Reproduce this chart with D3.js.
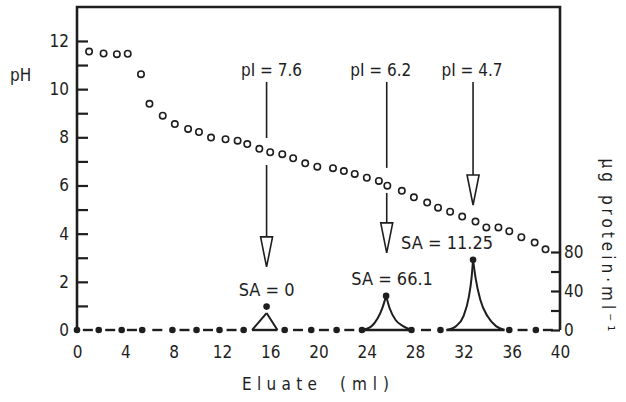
<!DOCTYPE html>
<html>
<head>
<meta charset="utf-8">
<script src="https://cdn.jsdelivr.net/npm/d3@7"></script>
<style>
  body { margin: 0; background: #fff; }
  svg { display: block; }
  text { font-family: "DejaVu Sans Condensed", "DejaVu Sans", sans-serif; fill: #1e1e1e; }
</style>
</head>
<body>
<svg id="chart" width="626" height="402"></svg>
<script>
// pH of the eluate fractions (open circles)
const phMl = [1.0, 2.2, 3.3, 4.2, 5.3, 6.0, 7.1, 8.1, 9.2, 10.1, 11.1, 12.3, 13.3, 14.1, 15.1, 16.0, 17.0, 17.9, 18.9, 19.9,
  21.2, 22.1, 23.0, 24.0, 25.0, 25.7, 26.9, 27.9, 29.0, 29.9, 30.9, 31.9, 33.0, 33.9, 34.9, 35.8, 36.8, 37.9, 38.8];
const phValues = [11.56, 11.48, 11.45, 11.47, 10.62, 9.39, 8.90, 8.55, 8.35, 8.22, 7.99, 7.92, 7.86, 7.72, 7.52, 7.38, 7.30, 7.13, 6.92, 6.78,
  6.72, 6.60, 6.48, 6.32, 6.19, 5.99, 5.78, 5.51, 5.29, 5.08, 4.91, 4.71, 4.50, 4.26, 4.26, 4.10, 3.85, 3.63, 3.35];

// protein (ug/ml) of the fractions (filled dots)
const proteinMl = [0, 1.8, 3.7, 5.4, 7.9, 9.9, 11.8, 13.8, 15.7, 17.2, 19.4, 21.5, 23.6, 25.6, 27.7, 30.1, 32.8, 35.8, 38.0];
const proteinValues = [0, 0, 0, 0, 0, 0, 0, 0, 24, 0, 0, 0, 0, 35, 0, 0, 72, 0, 0];

// peak outlines [ml, ug/ml]
const peak1 = [[14.5, 0], [15.7, 17.4], [16.6, 0]];
const peak2 = [[23.6, 0], [24.4, 4], [24.9, 12], [25.3, 23], [25.6, 35], [25.9, 22], [26.4, 10], [27.0, 4], [27.7, 0]];
const peak3 = [[30.6, 0], [31.4, 4], [32.0, 14], [32.45, 34], [32.68, 54], [32.8, 72], [33.0, 54], [33.4, 31], [34.0, 14], [34.7, 4], [35.4, 0]];

// pI arrows
const pILabels = ['pI = 7.6', 'pI = 6.2', 'pI = 4.7'];
const arrowMl = [15.7, 25.65, 32.8];
const arrowTipPh = [2.62, 3.2, 5.19];
const arrowGapsPh = [[6.85, 7.97], [5.69, 6.73], null];
const arrowStartPh = 10.3;

const saLabels = ['SA = 0', 'SA = 66.1', 'SA = 11.25'];

const phTicks = d3.range(0, 13);
const proteinTicks = [0, 20, 40, 60, 80];
const mlTicks = d3.range(0, 41, 4);

const ink = '#1e1e1e';
const svg = d3.select('#chart');

const x = d3.scaleLinear().domain([0, 40]).range([77, 560]);
const yPh = d3.scaleLinear().domain([0, 13.41]).range([330, 7]);
const yUg = d3.scaleLinear().domain([0, 80]).range([330, 252]);

svg.append('rect').attr('width', 626).attr('height', 402).attr('fill', '#fff');

// frame: left axis, top, right axis
svg.append('path')
  .attr('d', `M${x(0)},${yPh(0)}V${yPh.range()[1]}H${x(40)}V${yUg(0)}`)
  .attr('fill', 'none')
  .attr('stroke', ink)
  .attr('stroke-width', 2.6);

const gl = svg.append('g')
  .attr('transform', `translate(${x(0)},0)`)
  .call(d3.axisLeft(yPh).tickValues(phTicks).tickSizeInner(-11).tickSizeOuter(0).tickPadding(8)
    .tickFormat(d => d % 2 === 0 ? d : ''));
gl.select('.domain').remove();
gl.selectAll('.tick line').attr('stroke', ink).attr('stroke-width', 2.2).filter(d => d === 0).remove();

const gr = svg.append('g')
  .attr('transform', `translate(${x(40)},0)`)
  .call(d3.axisRight(yUg).tickValues(proteinTicks).tickSizeInner(-9).tickSizeOuter(0).tickPadding(4)
    .tickFormat(d => d % 40 === 0 ? d : ''));
gr.select('.domain').remove();
gr.selectAll('.tick line').attr('stroke', ink).attr('stroke-width', 2.2);

const gb = svg.append('g')
  .attr('transform', `translate(0,${yUg(0)})`)
  .call(d3.axisBottom(x).tickValues(mlTicks).tickSize(0).tickPadding(16));
gb.select('.domain').remove();

svg.selectAll('.tick text')
  .attr('font-family', null)
  .style('font-size', '17px')
  .attr('fill', ink);

// axis titles
svg.append('text').attr('x', 10).attr('y', 81).style('font-size', '17px').text('pH');
svg.append('text').attr('x', 242).attr('y', 390).style('font-size', '17px').style('letter-spacing', '5.3px').text('Eluate');
svg.append('text').attr('x', 340).attr('y', 390).style('font-size', '17px').style('letter-spacing', '6px').text('(ml)');
svg.append('text')
  .attr('transform', 'translate(602,247) rotate(90)')
  .attr('text-anchor', 'middle')
  .style('font-size', '17px')
  .style('letter-spacing', '4px')
  .text('µg protein·ml⁻¹');

// pI arrows
const headLen = 30, headHalf = 6;
const pIdx = [5, -6, -1];
arrowMl.forEach((ml, i) => {
  const ax = x(ml);
  const headTop = yPh(arrowTipPh[i]) - headLen;
  const gap = arrowGapsPh[i];
  const segs = gap
    ? [[yPh(arrowStartPh), yPh(gap[1])], [yPh(gap[0]), headTop]]
    : [[yPh(arrowStartPh), headTop]];
  segs.forEach(s => {
    svg.append('line')
      .attr('x1', ax).attr('x2', ax).attr('y1', s[0]).attr('y2', s[1])
      .attr('stroke', ink).attr('stroke-width', 1.6);
  });
  svg.append('path')
    .attr('d', `M${ax - headHalf},${headTop}L${ax + headHalf},${headTop}L${ax},${yPh(arrowTipPh[i])}Z`)
    .attr('fill', '#fff')
    .attr('stroke', ink)
    .attr('stroke-width', 1.6);
  svg.append('text')
    .attr('x', ax + pIdx[i]).attr('y', 76)
    .attr('text-anchor', 'middle')
    .style('font-size', '17px')
    .text(pILabels[i]);
});

// pH circles
svg.selectAll('.ph')
  .data(d3.zip(phMl, phValues))
  .join('circle')
  .attr('class', 'ph')
  .attr('cx', d => x(d[0]))
  .attr('cy', d => yPh(d[1]))
  .attr('r', 3.2)
  .attr('fill', '#fff')
  .attr('stroke', ink)
  .attr('stroke-width', 1.6);

// dashes between baseline fractions
const baseMl = proteinMl.concat([40]);
const baseVals = proteinValues.concat([0]);
const dashes = d3.pairs(d3.range(baseMl.length))
  .filter(p => baseVals[p[0]] === 0 && baseVals[p[1]] === 0)
  .map(p => (x(baseMl[p[0]]) + x(baseMl[p[1]])) / 2);
svg.selectAll('.dash')
  .data(dashes)
  .join('line')
  .attr('x1', d => d - 5).attr('x2', d => d + 5)
  .attr('y1', yUg(0)).attr('y2', yUg(0))
  .attr('stroke', ink).attr('stroke-width', 2.4);

// peaks
const curve = d3.line().x(d => x(d[0])).y(d => yUg(d[1])).curve(d3.curveMonotoneX);
const saDx = [0, 6, -26];
[peak1, peak2, peak3].forEach((pk, i) => {
  const top = d3.maxIndex(pk, d => d[1]);
  [pk.slice(0, top + 1), pk.slice(top)].forEach(half => {
    svg.append('path').attr('d', curve(half))
      .attr('fill', 'none').attr('stroke', ink).attr('stroke-width', 2);
  });
  svg.append('line')
    .attr('x1', x(pk[0][0])).attr('x2', x(pk[pk.length - 1][0]))
    .attr('y1', yUg(0)).attr('y2', yUg(0))
    .attr('stroke', ink).attr('stroke-width', 2.4);
});

// protein dots
svg.selectAll('.prot')
  .data(d3.zip(proteinMl, proteinValues))
  .join('circle')
  .attr('class', 'prot')
  .attr('cx', d => x(d[0]))
  .attr('cy', d => yUg(d[1]))
  .attr('r', 3.3)
  .attr('fill', ink);

// specific activity labels over the peaks
const apexes = proteinValues.map((v, i) => [proteinMl[i], v]).filter(d => d[1] > 0);
apexes.forEach((d, i) => {
  svg.append('text')
    .attr('x', x(d[0]) + saDx[i]).attr('y', yUg(d[1]) - 11)
    .attr('text-anchor', 'middle')
    .style('font-size', '18px')
    .text(saLabels[i]);
});
</script>
</body>
</html>
